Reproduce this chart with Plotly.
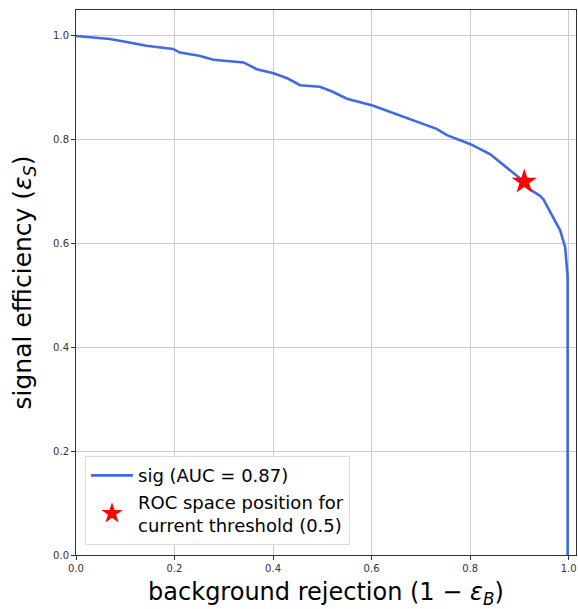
import plotly.graph_objects as go

# ROC curve
bkg_rejection = [0.0, 0.03, 0.069, 0.10, 0.143, 0.197, 0.211, 0.25, 0.279, 0.340, 0.367, 0.401,
                 0.43, 0.455, 0.495, 0.52, 0.550, 0.602, 0.64, 0.678, 0.732, 0.753, 0.802, 0.841,
                 0.875, 0.910, 0.922, 0.942, 0.949, 0.963, 0.983, 0.993, 0.997, 0.998, 0.998]
sig_efficiency = [1.0, 0.998, 0.994, 0.989, 0.981, 0.975, 0.968, 0.962, 0.954, 0.949, 0.936, 0.928,
                  0.918, 0.905, 0.902, 0.893, 0.879, 0.866, 0.853, 0.839, 0.821, 0.809, 0.791, 0.772,
                  0.746, 0.719, 0.704, 0.692, 0.685, 0.660, 0.625, 0.593, 0.556, 0.537, 0.0]
star_x = [0.91]
star_y = [0.719]
tick_vals = [0.0, 0.2, 0.4, 0.6, 0.8, 1.0]
tick_text = ["0.0", "0.2", "0.4", "0.6", "0.8", "1.0"]

fig = go.Figure()
fig.add_trace(go.Scatter(
    x=bkg_rejection, y=sig_efficiency, mode="lines",
    line=dict(color="#4169E1", width=2.6),
    name="sig (AUC = 0.87)",
))
fig.add_trace(go.Scatter(
    x=star_x, y=star_y, mode="markers",
    marker=dict(symbol="star", size=19, color="red", line=dict(width=0)),
    name="ROC space position for<br>current threshold (0.5)",
))

axis_common = dict(
    showline=True, linecolor="#333333", linewidth=1, mirror=True,
    showgrid=True, gridcolor="#cccccc", gridwidth=1,
    ticks="outside", ticklen=4, tickcolor="#333333",
    tickfont=dict(size=10, color="#333333"),
    tickvals=tick_vals, ticktext=tick_text,
    zeroline=False,
)

fig.update_layout(
    width=578, height=609,
    margin=dict(l=76, r=2, t=10, b=54),
    paper_bgcolor="white", plot_bgcolor="white",
    font=dict(family="DejaVu Sans", color="black"),
    xaxis=dict(range=[0, 1.015], title=dict(text="background rejection (1 − <i>ε</i><sub><i>B</i></sub>)",
               font=dict(size=24), standoff=12), **axis_common),
    yaxis=dict(range=[0, 1.05], title=dict(text="signal efficiency (<i>ε</i><sub><i>S</i></sub>)",
               font=dict(size=25), standoff=14), **axis_common),
    legend=dict(x=0.018, y=0.018, xanchor="left", yanchor="bottom",
                bgcolor="white", bordercolor="#dddddd", borderwidth=1,
                font=dict(size=18, color="black"), tracegroupgap=0,
                itemwidth=42),
    showlegend=True,
)

fig.write_html("out.html")
